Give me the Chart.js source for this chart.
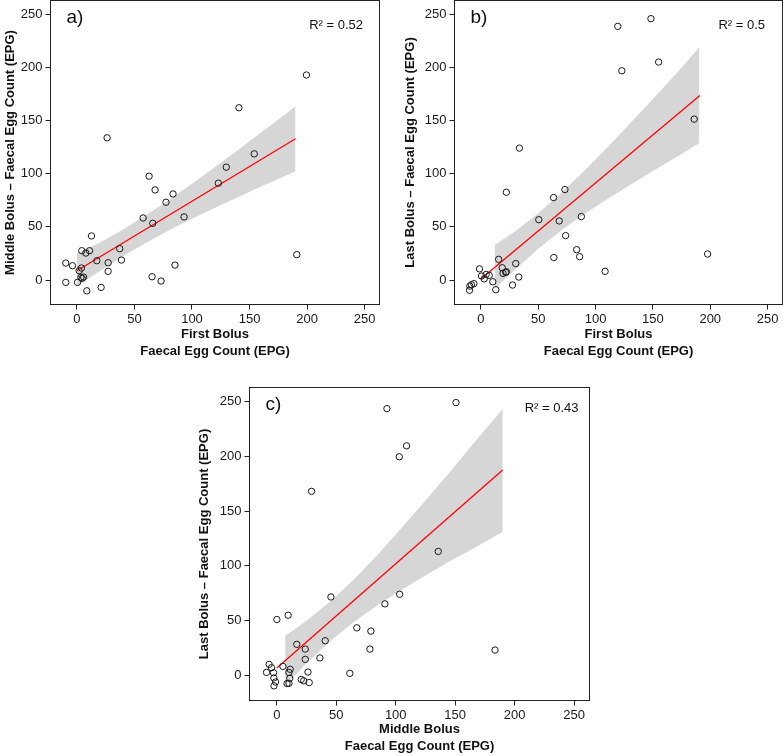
<!DOCTYPE html>
<html>
<head>
<meta charset="utf-8">
<script src="https://cdn.jsdelivr.net/npm/chart.js@4.4.0/dist/chart.umd.min.js"></script>
<style>
  html, body { margin: 0; padding: 0; background: #fff; }
  body { width: 783px; height: 755px; position: relative; overflow: hidden; }
  canvas { position: absolute; }
</style>
</head>
<body>
<canvas id="chartA" width="390" height="364" style="left:0px;top:-4px"></canvas>
<canvas id="chartB" width="392" height="364" style="left:395px;top:-4px"></canvas>
<canvas id="chartC" width="410" height="385" style="left:190px;top:370px"></canvas>
<script>
// tick labels used on every axis
var tickValues = [0, 50, 100, 150, 200, 250];
var panelTags = ['a)', 'b)', 'c)'];
var rSquared = ['0.52', '0.5', '0.43'];

// a) first bolus vs middle bolus (EPG)
var firstA = [199.5, 140.8, 26.2, 154.1, 129.8, 122.9, 62.7, 67.9, 83.5, 77.4, 57.5, 65.9, 93.1, 12.6, 37.2, 4.2, 10.9, 7.7, 17.3, 27.1, 38.7, -9.7, -3.9, 3.9, 1.9, 27.1, 85.2, 191.1, -9.7, 0.5, 3.4, 5.8, 4.6, 8.6, 21.0, 65.3, 73.1];
var middleA = [192.9, 162.1, 133.8, 118.7, 106.2, 91.1, 97.7, 84.8, 81.0, 73.2, 58.4, 53.4, 59.4, 41.5, 29.5, 27.6, 27.6, 25.4, 18.2, 16.3, 18.8, 16.0, 13.5, 11.3, 8.8, 8.2, 14.1, 23.9, -2.2, -2.2, 2.5, 2.8, 1.6, -10.1, -6.9, 3.1, -0.9];
var fitXA = [0, 190];
var fitYA = [8.8, 132.9];
var bandXA = [0, 20, 40, 60, 80, 100, 120, 140, 160, 175, 190];
var bandUpA = [25.0, 35.3, 47.5, 60.9, 75.2, 90.5, 106.3, 122.4, 138.7, 151.1, 163.6];
var bandLoA = [-5.5, 8.5, 22.3, 35.1, 46.8, 57.7, 68.1, 78.0, 87.9, 95.1, 102.4];

// b) first bolus vs last bolus (EPG)
var firstB = [148.3, 119.4, 155.0, 122.9, 186.0, 33.6, 22.2, 73.3, 63.4, 50.5, 68.3, 87.6, 73.9, 83.5, 86.1, 63.6, 108.3, 197.7, 15.5, 30.4, 18.6, 19.3, 21.6, 22.2, -1.2, 0.6, 4.6, 7.3, 2.9, 10.4, 33.1, 27.6, 13.0, -6.1, -8.2, -9.6, -9.9];
var lastB = [245.9, 238.7, 205.1, 196.9, 151.4, 124.1, 82.6, 85.1, 77.6, 56.8, 55.6, 59.7, 41.8, 28.6, 22.0, 21.2, 8.2, 24.5, 19.5, 15.5, 11.6, 6.3, 7.2, 7.8, 10.5, 3.8, 5.3, 4.4, 1.1, -1.6, 2.8, -4.7, -9.1, -3.4, -4.4, -5.7, -9.6];
var fitXB = [0, 191];
var fitYB = [0.9, 173.7];
var bandXB = [12, 30, 50, 70, 90, 110, 130, 150, 170, 190.5];
var bandUpB = [32.8, 46.0, 62.8, 81.8, 102.6, 124.5, 147.3, 170.4, 193.9, 219.0];
var bandLoB = [-8.2, 10.0, 29.4, 46.6, 62.0, 76.1, 89.5, 102.6, 115.3, 128.9];

// c) middle bolus vs last bolus (EPG)
var middleC = [150.7, 92.6, 109.1, 103.0, 29.2, 135.8, 45.5, 103.3, 90.9, 0.0, 9.5, 67.3, 79.1, 40.7, 16.8, 23.9, 78.3, 183.5, 23.9, 36.2, 61.4, 26.2, 5.1, -6.5, -4.5, -8.7, -2.8, -2.5, -1.1, -2.4, 11.2, 10.1, 10.9, 20.5, 22.6, 27.2, 8.6, 10.2];
var lastC = [249.2, 243.7, 209.7, 199.7, 168.1, 113.2, 71.6, 74.1, 65.3, 51.0, 54.9, 43.4, 40.4, 31.6, 28.3, 24.0, 24.0, 23.1, 14.6, 15.9, 1.8, 3.0, 8.2, 10.0, 7.0, 2.7, 2.4, -2.4, -6.1, -9.6, 5.5, 2.7, -2.7, -3.8, -5.0, -6.6, -7.5, -7.3];
var fitXC = [0, 190];
var fitYC = [6.6, 187.6];
var bandXC = [7, 25, 45, 65, 85, 105, 125, 145, 165, 190];
var bandUpC = [36.0, 49.8, 67.4, 87.8, 110.5, 134.8, 159.8, 185.1, 211.4, 243.3];
var bandLoC = [-9.4, 11.0, 31.4, 49.0, 64.3, 78.2, 91.2, 103.9, 115.6, 131.3];

var FONT = '"Liberation Sans", Arial, Helvetica, sans-serif';
Chart.defaults.font.family = FONT;

function pairs(xs, ys) {
  return xs.map(function(x, i) { return { x: x, y: ys[i] }; });
}

// box around the plot region plus panel tag and R² text
var boxPlugin = {
  id: 'panelBox',
  afterDraw: function(chart, args, opts) {
    var a = chart.chartArea;
    var ctx = chart.ctx;
    ctx.save();
    ctx.strokeStyle = '#222';
    ctx.lineWidth = 1;
    ctx.strokeRect(a.left, a.top, a.right - a.left, a.bottom - a.top);
    ctx.fillStyle = '#111';
    ctx.textBaseline = 'middle';
    ctx.textAlign = 'left';
    ctx.font = '19px ' + FONT;
    ctx.fillText(opts.tag, a.left + 16, a.top + 17.5);
    ctx.textAlign = 'right';
    ctx.font = '13px ' + FONT;
    ctx.fillText('R\u00B2 = ' + opts.r2, a.right - opts.r2Right, a.top + opts.r2Top);
    ctx.restore();
  }
};

function ticksCallback(scale) {
  scale.ticks = tickValues.map(function(v) { return { value: v }; });
}

function makePanel(id, xs, ys, fitX, fitY, bandX, bandUp, bandLo, xTitle, yTitle, look) {
  return new Chart(document.getElementById(id), {
    type: 'scatter',
    data: {
      datasets: [
        {
          data: pairs(xs, ys),
          pointRadius: 3.2,
          pointHoverRadius: 3.5,
          pointBorderWidth: 1,
          borderColor: '#1a1a1a',
          backgroundColor: 'rgba(0,0,0,0)',
          order: 0
        },
        {
          type: 'line',
          data: pairs(fitX, fitY),
          borderColor: '#ff0000',
          borderWidth: 1.3,
          pointRadius: 0,
          pointHoverRadius: 0,
          fill: false,
          order: 1
        },
        {
          type: 'line',
          data: pairs(bandX, bandUp),
          borderColor: 'rgba(0,0,0,0)',
          borderWidth: 0,
          pointRadius: 0,
          pointHoverRadius: 0,
          backgroundColor: '#d6d6d6',
          fill: '+1',
          order: 2
        },
        {
          type: 'line',
          data: pairs(bandX, bandLo),
          borderColor: 'rgba(0,0,0,0)',
          borderWidth: 0,
          pointRadius: 0,
          pointHoverRadius: 0,
          fill: false,
          order: 3
        }
      ]
    },
    options: {
      responsive: false,
      animation: false,
      events: [],
      layout: { padding: look.padding },
      plugins: {
        legend: { display: false },
        tooltip: { enabled: false },
        panelBox: { tag: look.tag, r2: look.r2, r2Right: look.r2Right, r2Top: look.r2Top }
      },
      scales: {
        x: {
          type: 'linear',
          min: -23,
          max: 263,
          afterBuildTicks: ticksCallback,
          afterFit: function(s) {
            s.height = look.xAxisH;
            s.paddingLeft = 0;
            s.paddingRight = 0;
          },
          border: { display: false },
          grid: { drawOnChartArea: false, drawTicks: true, tickLength: 5, color: '#222' },
          ticks: { padding: 2, color: '#1a1a1a', font: { size: 13 }, maxRotation: 0, autoSkip: false },
          title: {
            display: true,
            text: xTitle,
            color: '#111',
            font: { size: 13, weight: 'bold', lineHeight: '17px' },
            padding: { top: 0, bottom: 0 }
          }
        },
        y: {
          type: 'linear',
          min: -23,
          max: 263,
          afterBuildTicks: ticksCallback,
          afterFit: function(s) {
            s.width = look.yAxisW;
            s.paddingTop = 0;
            s.paddingBottom = 0;
          },
          border: { display: false },
          grid: { drawOnChartArea: false, drawTicks: true, tickLength: 5, color: '#222' },
          ticks: { padding: 3, color: '#1a1a1a', font: { size: 13 }, autoSkip: false },
          title: {
            display: true,
            text: yTitle,
            color: '#111',
            font: { size: 13, weight: 'bold', lineHeight: '17px' },
            padding: { top: look.yTitlePad, bottom: 0 }
          }
        }
      }
    },
    plugins: [boxPlugin]
  });
}

// the 4.5px minimum layout padding (point overflow) sits above panels a and b,
// so their canvases start 4px above the page
makePanel('chartA', firstA, middleA, fitXA, fitYA, bandXA, bandUpA, bandLoA,
  ['First Bolus', 'Faecal Egg Count (EPG)'],
  'Middle Bolus \u2013 Faecal Egg Count (EPG)',
  { tag: panelTags[0], r2: rSquared[0], r2Right: 16.5, r2Top: 25,
    padding: { top: 0, right: 10.5, bottom: 0, left: 0 }, xAxisH: 55.5, yAxisW: 50.5, yTitlePad: 1.5 });

makePanel('chartB', firstB, lastB, fitXB, fitYB, bandXB, bandUpB, bandLoB,
  ['First Bolus', 'Faecal Egg Count (EPG)'],
  'Last Bolus \u2013 Faecal Egg Count (EPG)',
  { tag: panelTags[1], r2: rSquared[1], r2Right: 17.5, r2Top: 25,
    padding: { top: 0, right: 0, bottom: 0, left: 0 }, xAxisH: 55.5, yAxisW: 59.5, yTitlePad: 6.5 });

makePanel('chartC', middleC, lastC, fitXC, fitYC, bandXC, bandUpC, bandLoC,
  ['Middle Bolus', 'Faecal Egg Count (EPG)'],
  'Last Bolus \u2013 Faecal Egg Count (EPG)',
  { tag: panelTags[2], r2: rSquared[2], r2Right: 11, r2Top: 21,
    padding: { top: 17.5, right: 10.5, bottom: 0, left: 0 }, xAxisH: 54.5, yAxisW: 59.5, yTitlePad: 6 });
</script>
</body>
</html>
